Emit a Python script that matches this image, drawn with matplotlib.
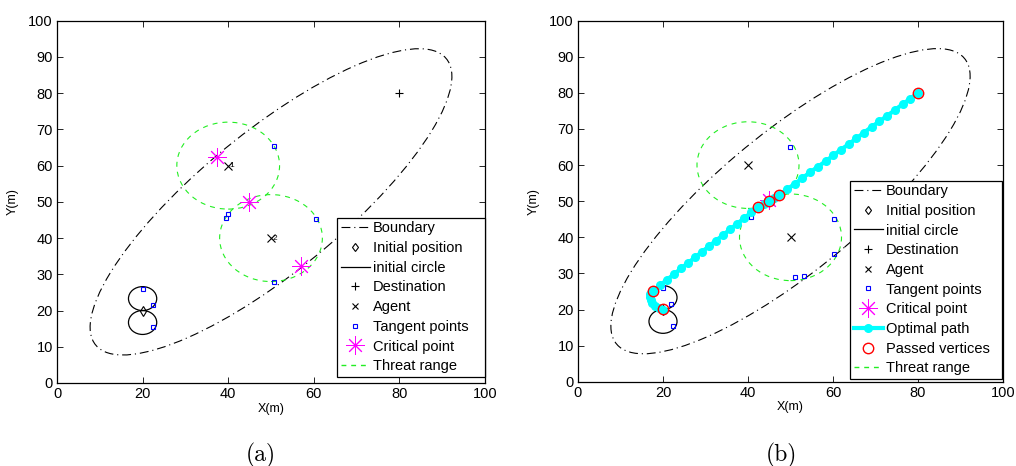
import numpy as np
import matplotlib
matplotlib.use("Agg")
import matplotlib.pyplot as plt
from matplotlib.patches import Ellipse, Circle
from matplotlib.lines import Line2D

plt.rcParams['font.family'] = ['Liberation Sans', 'DejaVu Sans']

# ---------------- data ----------------
boundary_center = (50, 50)
boundary_semi_axes = (57, 18)
boundary_angle = 45

init_pos_x = [20]
init_pos_y = [20]
init_circle_cx = [20, 20]
init_circle_cy = [23.3, 16.7]
init_circle_r = 3.3

dest_x = [80]
dest_y = [80]

agent_x = [40, 50]
agent_y = [60, 40]
agent_names = ["1", "2"]
threat_r = 12

tan_a_x = [20, 22.5, 22.5, 50.7, 40.0, 39.4, 60.5, 50.6]
tan_a_y = [26, 21.5, 15.5, 65.4, 46.7, 45.6, 45.3, 27.9]
crit_a_x = [37.3, 44.9, 57.0]
crit_a_y = [62.5, 50.0, 32.3]

tan_b_x = [20, 21.9, 22.4, 49.9, 40.7, 60.2, 60.3, 51.1, 53.2]
tan_b_y = [26, 21.5, 15.5, 65.0, 45.7, 45.0, 35.5, 29.1, 29.4]
crit_b_x = [45.0]
crit_b_y = [50.3]

path_x = [20, 19.0, 18.2, 17.5, 17.1, 16.9, 17.0, 17.3, 17.7,
          19.35, 21.0, 22.6, 24.3, 25.9, 27.6, 29.2, 30.9, 32.5, 34.2,
          35.8, 37.5, 39.1, 40.8, 42.4, 43.7, 45.0, 46.2, 47.4,
          49.2, 51.0, 52.8, 54.6, 56.5, 58.3, 60.1, 61.9, 63.7, 65.5,
          67.3, 69.1, 70.9, 72.8, 74.6, 76.4, 78.2, 80.0]
path_y = [20, 20.3, 20.9, 21.7, 22.6, 23.5, 24.3, 24.9, 25.2,
          26.75, 28.3, 29.8, 31.4, 32.9, 34.5, 36.0, 37.6, 39.1, 40.7,
          42.2, 43.8, 45.3, 46.9, 48.4, 49.2, 50.0, 50.9, 51.7,
          53.3, 54.8, 56.4, 58.0, 59.6, 61.1, 62.7, 64.3, 65.8, 67.4,
          69.0, 70.6, 72.1, 73.7, 75.3, 76.9, 78.4, 80.0]
passed_x = [17.7, 19.9, 42.4, 45.0, 47.4, 80.0]
passed_y = [25.2, 20.1, 48.4, 50.0, 51.7, 80.0]

x_ticks = [0, 20, 40, 60, 80, 100]
y_ticks = [0, 10, 20, 30, 40, 50, 60, 70, 80, 90, 100]

# ---------------- styles ----------------
GREEN = '#22ee22'
AST = (8, 2, 0)
bnd_ls = (0, (8, 3.5, 1, 3.5))
thr_ls = (0, (4.5, 4.5))

W, H = 1016, 466
fig = plt.figure(figsize=(W / 100, H / 100), dpi=100)

def rect(x0, x1, y_top, y_bot):
    return [x0 / W, 1 - y_bot / H, (x1 - x0) / W, (y_bot - y_top) / H]

ax_a = fig.add_axes(rect(57, 485, 20.7, 383))
ax_b = fig.add_axes(rect(578, 1003, 20.7, 381.7))


def base(ax, tan_x, tan_y, crit_x, crit_y):
    ax.add_patch(Ellipse(boundary_center, 2 * boundary_semi_axes[0], 2 * boundary_semi_axes[1],
                         angle=boundary_angle, fill=False, ec='black', lw=0.8, ls=bnd_ls))
    ax.plot(init_pos_x, init_pos_y, ls='none', marker='d', ms=5, mfc='none', mec='black', mew=0.8)
    for cx, cy in zip(init_circle_cx, init_circle_cy):
        ax.add_patch(Circle((cx, cy), init_circle_r, fill=False, ec='black', lw=0.9))
    ax.plot(dest_x, dest_y, ls='none', marker='+', ms=6, mec='black', mew=0.8)
    ax.plot(agent_x, agent_y, ls='none', marker='x', ms=5.5, mec='black', mew=0.8)
    ax.plot(tan_x, tan_y, ls='none', marker='s', ms=3.5, mfc='none', mec='blue', mew=0.8)
    ax.plot(crit_x, crit_y, ls='none', marker=AST, ms=13, mec='magenta', mfc='magenta', mew=0.7)
    for cx, cy in zip(agent_x, agent_y):
        ax.add_patch(Circle((cx, cy), threat_r, fill=False, ec=GREEN, lw=0.8, ls=thr_ls))


def style(ax):
    ax.set_xlim(0, 100)
    ax.set_ylim(0, 100)
    ax.set_xticks(x_ticks)
    ax.set_yticks(y_ticks)
    ax.tick_params(direction='in', length=4, width=0.6, top=True, right=True,
                   labelsize=10.5, pad=3)
    for s in ax.spines.values():
        s.set_linewidth(0.9)
    ax.set_xlabel('X(m)', fontsize=9, labelpad=1)
    ax.set_ylabel('Y(m)', fontsize=9, labelpad=7)


h_bnd = Line2D([], [], color='black', lw=0.8, ls=bnd_ls)
h_init = Line2D([], [], ls='none', marker='d', ms=4.5, mfc='none', mec='black', mew=0.8)
h_circ = Line2D([], [], color='black', lw=0.9)
h_dest = Line2D([], [], ls='none', marker='+', ms=6, mec='black', mew=0.8)
h_agent = Line2D([], [], ls='none', marker='x', ms=5, mec='black', mew=0.8)
h_tan = Line2D([], [], ls='none', marker='s', ms=3.5, mfc='none', mec='blue', mew=0.8)
h_crit = Line2D([], [], ls='none', marker=AST, ms=13, mec='magenta', mew=0.7)
h_thr = Line2D([], [], color=GREEN, lw=1.0, ls=(0, (3.5, 3.5)))
h_path = Line2D([], [], color='cyan', lw=3, marker='o', ms=5.5, mfc='cyan', mec='cyan')
h_pass = Line2D([], [], ls='none', marker='o', ms=7.5, mfc='none', mec='red', mew=1)

leg_kw = dict(loc='lower right', mode='expand', fontsize=10.5, frameon=True, fancybox=False,
              edgecolor='black', framealpha=1, handlelength=2.0, handletextpad=0.2,
              labelspacing=0.39, borderpad=0.25, borderaxespad=0)

# ---- (a) ----
base(ax_a, tan_a_x, tan_a_y, crit_a_x, crit_a_y)
for x, y, n in zip(agent_x, agent_y, agent_names):
    ax_a.text(x + 0.3, y, n, fontsize=6, ha='left', va='center', color='black')
style(ax_a)
leg = ax_a.legend([h_bnd, h_init, h_circ, h_dest, h_agent, h_tan, h_crit, h_thr],
                  ['Boundary', 'Initial position', 'initial circle', 'Destination', 'Agent',
                   'Tangent points', 'Critical point', 'Threat range'],
                  bbox_to_anchor=(0.654, 0.017, 0.346, 0.6), **leg_kw)
leg.get_frame().set_linewidth(0.9)

# ---- (b) ----
base(ax_b, tan_b_x, tan_b_y, crit_b_x, crit_b_y)
ax_b.plot(path_x, path_y, color='cyan', lw=3, marker='o', ms=5.5, mfc='cyan', mec='cyan', zorder=4)
ax_b.plot(passed_x, passed_y, ls='none', marker='o', ms=7.5, mfc='none', mec='red', mew=1, zorder=5)
style(ax_b)
leg = ax_b.legend([h_bnd, h_init, h_circ, h_dest, h_agent, h_tan, h_crit, h_path, h_pass, h_thr],
                  ['Boundary', 'Initial position', 'initial circle', 'Destination', 'Agent',
                   'Tangent points', 'Critical point', 'Optimal path', 'Passed vertices',
                   'Threat range'],
                  bbox_to_anchor=(0.64, 0.0075, 0.3576, 0.7), **leg_kw)
leg.get_frame().set_linewidth(0.9)

fig.text(261 / W, 1 - 455 / H, '(a)', fontsize=17, family='cmr10', ha='center', va='center')
fig.text(781 / W, 1 - 455 / H, '(b)', fontsize=17, family='cmr10', ha='center', va='center')

fig.savefig('out.png', dpi=100)
